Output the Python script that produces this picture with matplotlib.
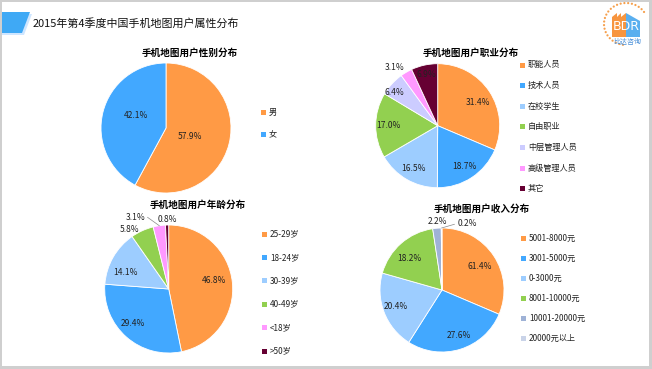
import numpy as np
import matplotlib
matplotlib.use("Agg")
import matplotlib.pyplot as plt
from matplotlib.patches import Rectangle, Polygon, Circle

plt.rcParams['font.family'] = ['Noto Sans CJK SC', 'DejaVu Sans']

# ---------------- data ----------------
title = "2015年第4季度中国手机地图用户属性分布"

gender_title = "手机地图用户性别分布"
gender_cats = ["男", "女"]
gender_vals = [57.9, 42.1]

job_title = "手机地图用户职业分布"
job_cats = ["职能人员", "技术人员", "在校学生", "自由职业", "中层管理人员", "高级管理人员", "其它"]
job_vals = [31.4, 18.7, 16.5, 17.0, 6.4, 3.1, 6.9]

age_title = "手机地图用户年龄分布"
age_cats = ["25-29岁", "18-24岁", "30-39岁", "40-49岁", "<18岁", ">50岁"]
age_vals = [46.8, 29.4, 14.1, 5.8, 3.1, 0.8]

income_title = "手机地图用户收入分布"
income_cats = ["5001-8000元", "3001-5000元", "0-3000元", "8001-10000元", "10001-20000元", "20000元以上"]
income_vals = [31.4, 27.6, 20.4, 18.2, 2.2, 0.2]
# label texts exactly as printed on the reference (first one reads 61.4%)
income_labels = ["61.4%", "27.6%", "20.4%", "18.2%", "2.2%", "0.2%"]

# ---------------- style ----------------
W, H = 652, 369
ORANGE = "#FF9A45"
BLUE = "#42A8FF"
LBLUE = "#9DCDFF"
GREEN = "#92D050"
LAV = "#CCCCFF"
PINK = "#FF99FF"
MAROON = "#660033"
GREYB = "#9FB2D6"
LGREYB = "#C9D3E8"

fig = plt.figure(figsize=(W / 100, H / 100), dpi=100)
bg = fig.add_axes([0, 0, 1, 1])
bg.set_xlim(0, W)
bg.set_ylim(H, 0)
bg.axis('off')

# frame
fc = "#CFCFCF"
bg.add_patch(Rectangle((0, 0), 2, H, color=fc, lw=0))
bg.add_patch(Rectangle((0, 0), W, 1.5, color=fc, lw=0))
bg.add_patch(Rectangle((649, 0), 3, H, color=fc, lw=0))
bg.add_patch(Rectangle((0, 366), W, 3, color=fc, lw=0))

# title bar
bg.add_patch(Polygon([(2, 14), (32, 14), (24, 35), (2, 35)], closed=True, color="#CFE6FF", lw=0))
bg.add_patch(Polygon([(2, 12), (30, 12), (22, 33), (2, 33)], closed=True, color="#3FA9F5", lw=0))
bg.text(33, 23, title, fontsize=7.9, va='center', ha='left', color='#111111')

# logo
lc = (626, 24)
for a in np.linspace(35, 262, 24):
    t = np.deg2rad(a)
    bg.add_patch(Circle((lc[0] + 22 * np.cos(t), lc[1] - 21 * np.sin(t)), 1.1, color="#F6A04D", lw=0))
bg.add_patch(Polygon([(612, 37), (612, 17), (617, 13), (617, 17), (621, 13), (621, 17), (626, 13), (626, 37)],
                     closed=True, color="#F7953F", lw=0))
bg.add_patch(Polygon([(626, 37), (626, 13), (640, 21), (640, 37)], closed=True, color="#5AAFEF", lw=0))
bg.text(626, 27, "BDR", fontsize=9, color='white', ha='center', va='center', family=['DejaVu Sans'])
bg.text(627, 42, "比达咨询", fontsize=5, color='#4A90D9', ha='center', va='center')


def make_pie(cx, cy, r, vals, colors, labels, dist, overrides, leaders):
    ax = fig.add_axes([(cx - r) / W, 1 - (cy + r) / H, 2 * r / W, 2 * r / H])
    wedges, _ = ax.pie(vals, colors=colors, startangle=90, counterclock=False, radius=1,
                       wedgeprops=dict(edgecolor='white', linewidth=0.6))
    ax.set_xlim(-1, 1)
    ax.set_ylim(-1, 1)
    ax.axis('off')
    for i, (w, lab) in enumerate(zip(wedges, labels)):
        mid = np.deg2rad((w.theta1 + w.theta2) / 2)
        if i in overrides:
            ang, d = overrides[i]
            ang = np.deg2rad(ang)
        else:
            ang, d = mid, dist
        x, y = d * np.cos(ang), d * np.sin(ang)
        ax.text(x, y, lab, ha='center', va='center', fontsize=6.1, color='#222222', clip_on=False)
        if i in leaders:
            (sx, sy) = leaders[i]
            ax.plot([sx, np.cos(mid) * 1.0], [sy, np.sin(mid) * 1.0], color='#888888', lw=0.5,
                    clip_on=False)
    return ax


def legend(x, y0, step, cats, colors):
    for i, (c, col) in enumerate(zip(cats, colors)):
        y = y0 + i * step
        bg.add_patch(Rectangle((x - 2.5, y - 2.5), 5, 5, color=col, lw=0))
        bg.text(x + 6, y, c, fontsize=5.9, va='center', ha='left', color='#222222')


def pct(vals):
    return ["%.1f%%" % v for v in vals]


# gender
gcol = [ORANGE, BLUE]
make_pie(166, 128, 65, gender_vals, gcol, pct(gender_vals), 0.45,
         {0: (-20.6, 0.39), 1: (158, 0.5)}, {})
bg.text(190, 53, gender_title, fontsize=6.9, fontweight='bold', ha='center', va='center')
legend(263, 112, 22, gender_cats, gcol)

# job
jcol = [ORANGE, BLUE, LBLUE, GREEN, LAV, PINK, MAROON]
make_pie(437.7, 125.7, 62, job_vals, jcol, pct(job_vals), 0.79,
         {0: (29.4, 0.75), 4: (142.6, 0.87), 5: (126, 1.17), 6: (102, 0.84)}, {})
bg.text(471, 53, job_title, fontsize=6.9, fontweight='bold', ha='center', va='center')
legend(522, 65, 20.6, job_cats, jcol)

# age
acol = [ORANGE, BLUE, LBLUE, GREEN, PINK, MAROON]
make_pie(168.7, 289, 64, age_vals, acol, pct(age_vals), 0.75,
         {0: (11, 0.72), 1: (-136, 0.77), 2: (158.7, 0.73), 3: (123.5, 1.12), 4: (115, 1.24), 5: (91.4, 1.08)},
         {4: (-0.33, 1.12)})
bg.text(198, 205, age_title, fontsize=6.9, fontweight='bold', ha='center', va='center')
legend(264, 234, 23.4, age_cats, acol)

# income
icol = [ORANGE, BLUE, LBLUE, GREEN, GREYB, LGREYB]
make_pie(442, 290, 62, income_vals, icol, income_labels, 0.78,
         {0: (32.3, 0.72), 1: (-69.7, 0.79), 2: (-160.8, 0.79), 3: (136, 0.72), 4: (94, 1.11), 5: (69.5, 1.15)},
         {5: (0.2, 1.06)})
bg.text(482, 209, income_title, fontsize=6.9, fontweight='bold', ha='center', va='center')
legend(523, 238, 20, income_cats, icol)

fig.savefig("out.png", dpi=100)
